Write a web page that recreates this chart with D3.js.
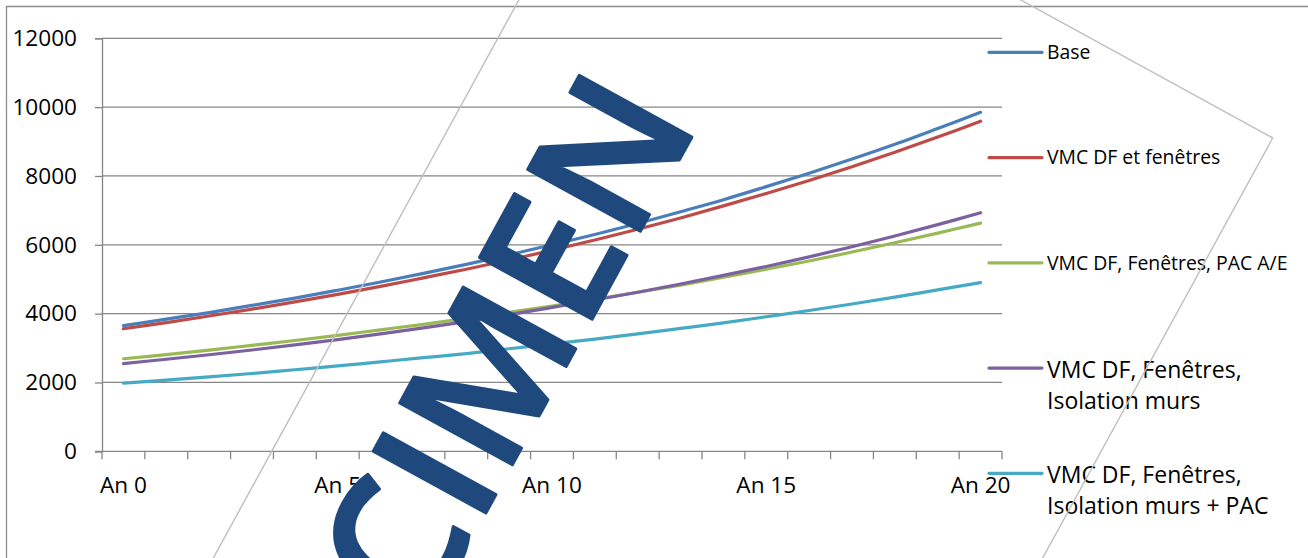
<!DOCTYPE html>
<html>
<head>
<meta charset="utf-8">
<script src="https://cdn.jsdelivr.net/npm/d3@7"></script>
<style>
  html, body { margin: 0; padding: 0; background: #ffffff; }
  svg { display: block; }
  text { font-family: "Open Sans", "Noto Sans", sans-serif; fill: #000000; }
</style>
</head>
<body>
<svg id="chart" width="1308" height="558"></svg>
<script>
// Years of the projection
const categories = ["An 0", "An 1", "An 2", "An 3", "An 4", "An 5", "An 6", "An 7", "An 8", "An 9", "An 10",
                    "An 11", "An 12", "An 13", "An 14", "An 15", "An 16", "An 17", "An 18", "An 19", "An 20"];
const xTickLabels = ["An 0", "An 5", "An 10", "An 15", "An 20"];
const yTicks = [0, 2000, 4000, 6000, 8000, 10000, 12000];

// Annual cost per scenario
const base = [3650, 3840, 4030, 4240, 4450, 4680, 4920, 5170, 5430, 5710, 6000,
              6300, 6620, 6960, 7310, 7690, 8080, 8490, 8920, 9380, 9850];
const vmcFenetres = [3560, 3740, 3930, 4130, 4340, 4560, 4790, 5040, 5290, 5560, 5840,
                     6140, 6450, 6780, 7130, 7490, 7870, 8270, 8690, 9130, 9590];
const vmcFenetresPac = [2690, 2810, 2940, 3080, 3220, 3370, 3530, 3690, 3860, 4040, 4220,
                        4420, 4620, 4830, 5060, 5290, 5530, 5790, 6060, 6340, 6630];
const vmcFenetresIsolation = [2550, 2675, 2806, 2944, 3090, 3245, 3410, 3585, 3770, 3970, 4180,
                              4395, 4620, 4860, 5110, 5370, 5650, 5945, 6255, 6585, 6930];
const vmcFenetresIsolationPac = [1980, 2070, 2160, 2260, 2370, 2480, 2600, 2720, 2840, 2980, 3120,
                                 3260, 3410, 3570, 3730, 3910, 4090, 4280, 4480, 4690, 4900];

const seriesLabels = [
  ["Base"],
  ["VMC DF et fenêtres"],
  ["VMC DF, Fenêtres, PAC A/E"],
  ["VMC DF, Fenêtres,", "Isolation murs"],
  ["VMC DF, Fenêtres,", "Isolation murs + PAC"]
];
const seriesValues = [base, vmcFenetres, vmcFenetresPac, vmcFenetresIsolation, vmcFenetresIsolationPac];
const seriesColors = ["#4A7EBB", "#BE4B48", "#98B954", "#7D60A0", "#46AAC5"];
const legendFontSizes = [19.4, 19.4, 19.4, 23, 23];

const series = seriesLabels.map((label, i) => ({ label, values: seriesValues[i], color: seriesColors[i], fontSize: legendFontSizes[i] }));

const svg = d3.select("#chart");
const gridColor = "#868686";

// Outer chart frame
svg.append("path")
  .attr("d", "M6.5,600 V6.5 H1400")
  .attr("fill", "none")
  .attr("stroke", "#8C8C8C")
  .attr("stroke-width", 1.3);

const plot = { left: 102, right: 1002, top: 38.3, bottom: 451.3 };

const x = d3.scaleBand().domain(categories).range([plot.left, plot.right]).padding(0);
const y = d3.scaleLinear().domain([0, 12000]).range([plot.bottom, plot.top]);
const cx = c => x(c) + x.bandwidth() / 2;

// Horizontal gridlines
svg.append("g")
  .selectAll("line")
  .data(yTicks.filter(t => t > 0))
  .join("line")
  .attr("x1", plot.left).attr("x2", plot.right)
  .attr("y1", d => y(d)).attr("y2", d => y(d))
  .attr("stroke", gridColor).attr("stroke-width", 1.3);

// Value axis
const yAxis = svg.append("g")
  .attr("transform", `translate(${plot.left},0)`)
  .call(d3.axisLeft(y).tickValues(yTicks).tickSize(7).tickPadding(18).tickFormat(d3.format("d")));
yAxis.select(".domain").attr("stroke", gridColor).attr("stroke-width", 1.3);
yAxis.selectAll(".tick line").attr("stroke", gridColor).attr("stroke-width", 1.3);
yAxis.selectAll(".tick text")
  .style("font-family", "'Open Sans', sans-serif")
  .style("font-size", "22.6px")
  .attr("fill", "#000");

// Category axis: ticks on band boundaries, labels every fifth year
const xAxisG = svg.append("g");
xAxisG.append("line")
  .attr("x1", plot.left - 7).attr("x2", plot.right)
  .attr("y1", plot.bottom).attr("y2", plot.bottom)
  .attr("stroke", gridColor).attr("stroke-width", 1.3);
const boundaries = categories.map(c => x(c)).concat([x(categories[categories.length - 1]) + x.bandwidth()]);
xAxisG.selectAll("line.tick")
  .data(boundaries)
  .join("line")
  .attr("class", "tick")
  .attr("x1", d => d).attr("x2", d => d)
  .attr("y1", plot.bottom).attr("y2", plot.bottom + 8)
  .attr("stroke", gridColor).attr("stroke-width", 1.3);
xAxisG.selectAll("text")
  .data(xTickLabels)
  .join("text")
  .attr("x", d => cx(d))
  .attr("y", plot.bottom + 42)
  .attr("text-anchor", "middle")
  .style("font-size", "22.6px")
  .text(d => d);

// Series lines
const line = d3.line()
  .x((d, i) => cx(categories[i]))
  .y(d => y(d))
  .curve(d3.curveCatmullRom.alpha(0.5));

svg.append("g")
  .selectAll("path")
  .data(series)
  .join("path")
  .attr("d", d => line(d.values))
  .attr("fill", "none")
  .attr("stroke", d => d.color)
  .attr("stroke-width", 3.2)
  .attr("stroke-linecap", "round")
  .attr("stroke-linejoin", "round");

// Legend
const legendY = d3.scalePoint().domain(d3.range(series.length)).range([52.3, 473.3]);
const legend = svg.append("g")
  .selectAll("g")
  .data(series)
  .join("g")
  .attr("transform", (d, i) => `translate(989,${legendY(i)})`);
legend.append("line")
  .attr("x1", 0).attr("x2", 53)
  .attr("y1", 0).attr("y2", 0)
  .attr("stroke", d => d.color)
  .attr("stroke-width", 3.2)
  .attr("stroke-linecap", "round");
legend.append("text")
  .attr("x", 58)
  .attr("y", d => d.label.length > 1 ? 9.8 : 6.8)
  .style("font-size", d => d.fontSize + "px")
  .selectAll("tspan")
  .data(d => d.label)
  .join("tspan")
  .attr("x", 58)
  .attr("dy", (t, j) => j === 0 ? 0 : 31.2)
  .text(t => t);

// Watermark frame and lettering
const stamp = svg.append("g")
  .attr("transform", "translate(487,511) rotate(-61.3)");
stamp.append("rect")
  .attr("x", -1000).attr("y", -217.5)
  .attr("width", 1704.6).attr("height", 727.5)
  .attr("fill", "none")
  .attr("stroke", "#BFBFBF")
  .attr("stroke-width", 1.4);
stamp.append("text")
  .attr("x", 0).attr("y", 0)
  .attr("text-anchor", "middle")
  .style("font-size", "180px")
  .style("font-weight", "600")
  .style("fill", "#1F497D")
  .style("stroke", "#1F497D")
  .style("stroke-width", "3px")
  .style("stroke-linejoin", "round")
  .text("SPECIMEN");
</script>
</body>
</html>
